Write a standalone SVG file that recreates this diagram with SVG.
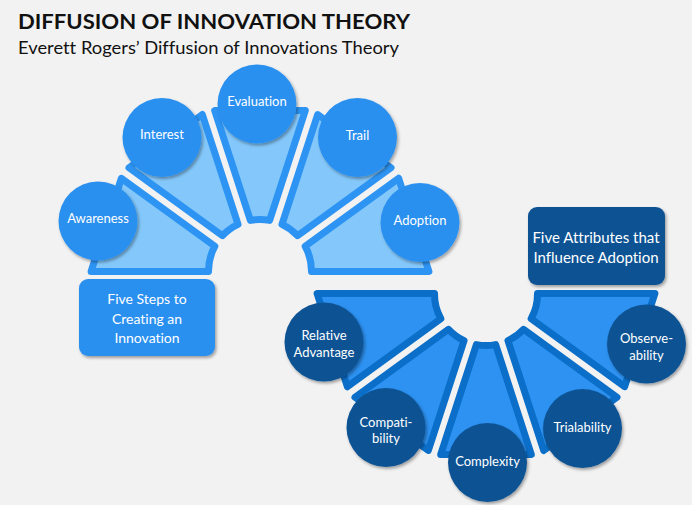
<svg xmlns="http://www.w3.org/2000/svg" width="692" height="505" viewBox="0 0 692 505">
<defs>
<filter id="sh" x="-20%" y="-20%" width="150%" height="150%">
<feDropShadow dx="1.5" dy="2" stdDeviation="1.6" flood-color="#000" flood-opacity="0.35"/>
</filter>
</defs>
<style>
text{font-variant-ligatures:none}
.tw{fill:#84C8FB;stroke:#2D94F3;stroke-width:7;stroke-linejoin:round}
.bw{fill:#2D92F2;stroke:#0B6FC9;stroke-width:7;stroke-linejoin:round}
.tc{fill:#2B90F0;filter:url(#sh)}
.bc{fill:#0D5394;filter:url(#sh)}
.lbl{font-family:Lato,"Open Sans","Liberation Sans",sans-serif;font-size:13px;fill:#FFFFFF;text-anchor:middle}
.box{font-family:Lato,"Open Sans","Liberation Sans",sans-serif;fill:#FFFFFF;text-anchor:middle}
.ttl{font-family:Lato,"Liberation Sans",sans-serif;fill:#111111}
</style>
<rect x="0" y="0" width="692" height="505" fill="#F2F2F2"/>
<g id="title">
<text class="ttl" x="18" y="29" font-size="21.5" font-weight="bold" textLength="392" lengthAdjust="spacingAndGlyphs">DIFFUSION OF INNOVATION THEORY</text>
<text class="ttl" x="18" y="54" font-size="18" textLength="381" lengthAdjust="spacingAndGlyphs">Everett Rogers’ Diffusion of Innovations Theory</text>
</g>
<g id="connectors"></g>
<g id="steps">
<g id="awareness">
<path class="tw" d="M91.08,271.5 L121.36,178.3 L214.85,246.23 A51.5,51.5 0 0 0 208.5,271.5 Z"/>
</g>
<g id="interest">
<path class="tw" d="M128.99,167.79 L202.33,114.51 L238.03,224.42 A51.5,51.5 0 0 0 222.49,235.71 Z"/>
</g>
<g id="evaluation">
<path class="tw" d="M214.68,110.5 L305.32,110.5 L269.61,220.4 A51.5,51.5 0 0 0 250.4,220.4 Z"/>
</g>
<g id="trail">
<path class="tw" d="M317.68,114.51 L391.01,167.79 L297.51,235.71 A51.5,51.5 0 0 0 281.97,224.42 Z"/>
</g>
<g id="adoption">
<path class="tw" d="M398.64,178.3 L428.92,271.5 L311.5,271.5 A51.5,51.5 0 0 0 305.15,246.23 Z"/>
</g>
<g id="step-circles">
<circle class="tc" cx="98" cy="221" r="39.5"/>
<text class="lbl" x="98" y="223">Awareness</text>
<circle class="tc" cx="162" cy="137.5" r="39.5"/>
<text class="lbl" x="162" y="139">Interest</text>
<circle class="tc" cx="257" cy="104" r="39.5"/>
<text class="lbl" x="257" y="106">Evaluation</text>
<circle class="tc" cx="357.5" cy="137.5" r="39.5"/>
<text class="lbl" x="357.5" y="140">Trail</text>
<circle class="tc" cx="420" cy="222.5" r="39.5"/>
<text class="lbl" x="420" y="225">Adoption</text>
</g>
</g>
<g id="attributes">
<g id="relative-advantage">
<path class="bw" d="M347.36,386.7 L317.08,293.5 L434.5,293.5 A51.5,51.5 0 0 0 440.85,318.77 Z"/>
</g>
<g id="compatibility">
<path class="bw" d="M428.33,450.49 L354.99,397.21 L448.49,329.29 A51.5,51.5 0 0 0 464.03,340.58 Z"/>
</g>
<g id="complexity">
<path class="bw" d="M531.32,454.5 L440.68,454.5 L476.4,344.6 A51.5,51.5 0 0 0 495.61,344.6 Z"/>
</g>
<g id="trialability">
<path class="bw" d="M617.01,397.21 L543.68,450.49 L507.97,340.58 A51.5,51.5 0 0 0 523.51,329.29 Z"/>
</g>
<g id="observeability">
<path class="bw" d="M654.92,293.5 L624.64,386.7 L531.15,318.77 A51.5,51.5 0 0 0 537.5,293.5 Z"/>
</g>
<g id="attribute-circles">
<circle class="bc" cx="324" cy="342" r="39.5"/>
<text class="lbl" x="324" y="340">Relative</text>
<text class="lbl" x="324" y="357">Advantage</text>
<circle class="bc" cx="386" cy="427.5" r="39.5"/>
<text class="lbl" x="386" y="427">Compati-</text>
<text class="lbl" x="386" y="443">bility</text>
<circle class="bc" cx="487.5" cy="462.5" r="39.5"/>
<text class="lbl" x="487.5" y="466">Complexity</text>
<circle class="bc" cx="582.5" cy="428.5" r="39.5"/>
<text class="lbl" x="582.5" y="432">Trialability</text>
<circle class="bc" cx="646.5" cy="344" r="39.5"/>
<text class="lbl" x="646.5" y="343">Observe-</text>
<text class="lbl" x="646.5" y="360">ability</text>
</g>
</g>
<g id="five-steps-box">
<rect x="79" y="279" width="136" height="77" rx="9" fill="#2B90F0" filter="url(#sh)"/>
<text class="box" x="147" y="304" font-size="14">Five Steps to</text>
<text class="box" x="147" y="324" font-size="14">Creating an</text>
<text class="box" x="147" y="343" font-size="14">Innovation</text>
</g>
<g id="five-attributes-box">
<rect x="528" y="207" width="137" height="78" rx="9" fill="#0D5394" filter="url(#sh)"/>
<text class="box" x="596" y="242.5" font-size="15">Five Attributes that</text>
<text class="box" x="596" y="262.5" font-size="15">Influence Adoption</text>
</g>
</svg>
